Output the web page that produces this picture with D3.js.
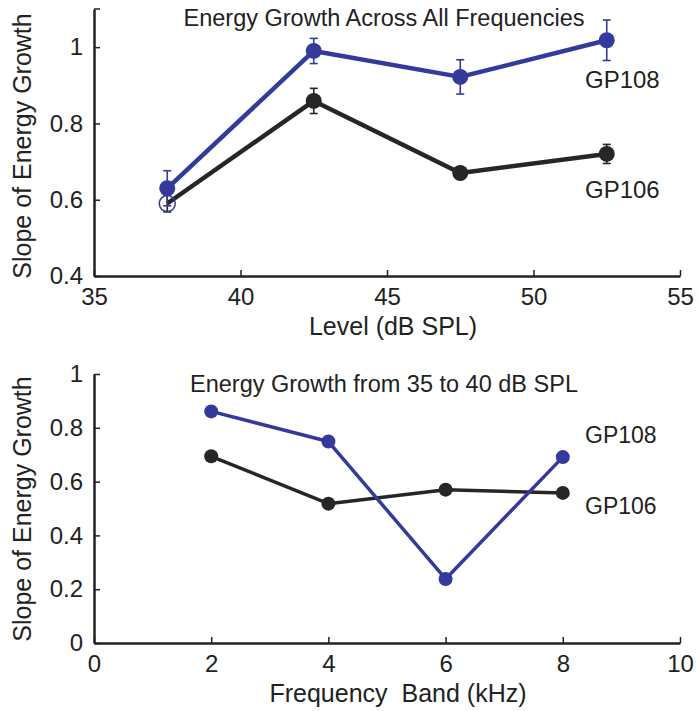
<!DOCTYPE html>
<html lang="en">
  <head>
    <meta charset="utf-8">
    <title>Energy Growth</title>
    <script src="https://cdn.jsdelivr.net/npm/d3@7"></script>
    <style>
      body { margin: 0; background: #fff; }
      text { font-family: "Liberation Sans", Arial, sans-serif; fill: #222; }
    </style>
  </head>
  <body>
    <script>

      // top panel: slope vs level
      var levels = [37.5, 42.5, 47.5, 52.5];
      var gp108Level = [0.63, 0.99, 0.922, 1.018];
      var gp108LevelErr = [0.046, 0.033, 0.045, 0.053];
      var gp106Level = [0.59, 0.859, 0.67, 0.72];
      var gp106LevelErr = [0.022, 0.033, 0.01, 0.025];
      var levelTicks = [35, 40, 45, 50, 55];
      var topYTicks = [0.4, 0.6, 0.8, 1];

      // bottom panel: slope vs frequency band
      var bands = [2, 4, 6, 8];
      var gp108Band = [0.861, 0.749, 0.238, 0.691];
      var gp106Band = [0.694, 0.518, 0.57, 0.558];
      var bandTicks = [0, 2, 4, 6, 8, 10];
      var botYTicks = [0, 0.2, 0.4, 0.6, 0.8, 1];

      var blue = "#343a9c", black = "#262626";

      var svg = d3.select("body").append("svg")
                  .attr("width", 698)
                  .attr("height", 711);

      function panel(opt) {
        var x = d3.scaleLinear().domain(opt.xDomain).range([94, 680]);
        var y = d3.scaleLinear().domain(opt.yDomain).range(opt.yRange);
        var g = svg.append("g");

        // axes, matlab style (ticks inside)
        var xa = g.append("g").attr("transform", "translate(0," + opt.yRange[0] + ")")
          .call(d3.axisBottom(x).tickValues(opt.xTicks).tickSizeInner(-6).tickSizeOuter(0).tickPadding(12)
            .tickFormat(d3.format("d")));
        var ya = g.append("g").attr("transform", "translate(94,0)")
          .call(d3.axisLeft(y).tickValues(opt.yTicks).tickSizeInner(-6).tickSizeOuter(0).tickPadding(11)
            .tickFormat(function(d) { return d == 0 || d == 1 ? d : d3.format(".1f")(d); }));
        [xa, ya].forEach(function(a) {
          a.select(".domain").attr("stroke", "#222").attr("stroke-width", 2.5);
          a.selectAll(".tick line").attr("stroke", "#222").attr("stroke-width", 1.5);
          a.selectAll(".tick text").style("font-size", "24px").attr("fill", "#222");
        });
        xa.selectAll(".tick text").attr("dy", "0.71em");
        // top tick of the y axis
        if (opt.yTop) {
          g.append("line").attr("x1", 94).attr("x2", 100)
            .attr("y1", y(opt.yTop)).attr("y2", y(opt.yTop))
            .attr("stroke", "#222").attr("stroke-width", 1.5);
        }

        g.append("text").attr("x", 384).attr("y", opt.titleY)
          .attr("text-anchor", "middle").style("font-size", "23.5px").text(opt.title);
        g.append("text").attr("x", opt.xLabelX).attr("y", opt.xLabelY)
          .attr("text-anchor", "middle").style("font-size", "25px").style("white-space", "pre")
          .text(opt.xLabel);
        g.append("text")
          .attr("transform", "translate(31," + opt.yLabelY + ") rotate(-90)")
          .attr("text-anchor", "middle").style("font-size", "25px").text("Slope of Energy Growth");

        var line = d3.line().x(function(d) { return x(d[0]); }).y(function(d) { return y(d[1]); });

        opt.series.forEach(function(s) {
          var pts = opt.xs.map(function(v, i) { return [v, s.values[i], s.err ? s.err[i] : 0]; });
          if (s.err) {
            var eb = g.append("g").attr("stroke", s.color).attr("stroke-width", 1.6);
            pts.forEach(function(p) {
              eb.append("line").attr("x1", x(p[0])).attr("x2", x(p[0]))
                .attr("y1", y(p[1] - p[2])).attr("y2", y(p[1] + p[2]));
              [p[1] - p[2], p[1] + p[2]].forEach(function(v) {
                eb.append("line").attr("x1", x(p[0]) - 4).attr("x2", x(p[0]) + 4)
                  .attr("y1", y(v)).attr("y2", y(v));
              });
            });
          }
          g.append("path").datum(pts).attr("d", line)
            .attr("fill", "none").attr("stroke", s.color)
            .attr("stroke-width", opt.lineWidth).attr("stroke-linejoin", "round");
          g.selectAll(null).data(pts).enter().append("circle")
            .attr("cx", function(d) { return x(d[0]); })
            .attr("cy", function(d) { return y(d[1]); })
            .attr("r", opt.r)
            .attr("fill", function(d, i) { return s.hollow && s.hollow[i] ? "none" : s.color; })
            .attr("stroke", function(d, i) { return s.hollow && s.hollow[i] ? blue : s.color; })
            .attr("stroke-width", function(d, i) { return s.hollow && s.hollow[i] ? 1.5 : 0; });
          g.append("text").attr("x", 585).attr("y", s.labelY)
            .style("font-size", opt.labelSize).attr("fill", s.color).text(s.name);
        });
      }

      panel({
        xDomain: [35, 55], yDomain: [0.4, 1.1], yRange: [276, 9], yTop: 1.1,
        xTicks: levelTicks, yTicks: topYTicks, xs: levels,
        title: "Energy Growth Across All Frequencies", titleY: 26,
        xLabel: "Level (dB SPL)", xLabelX: 393, xLabelY: 335, yLabelY: 146,
        lineWidth: 4.5, r: 8, labelSize: "24px",
        series: [
          { name: "GP106", values: gp106Level, err: gp106LevelErr, color: black, labelY: 198,
            hollow: [true, false, false, false] },
          { name: "GP108", values: gp108Level, err: gp108LevelErr, color: blue, labelY: 88 }
        ]
      });

      panel({
        xDomain: [0, 10], yDomain: [0, 1], yRange: [643, 374],
        xTicks: bandTicks, yTicks: botYTicks, xs: bands,
        title: "Energy Growth from 35 to 40 dB SPL", titleY: 392,
        xLabel: "Frequency  Band (kHz)", xLabelX: 398, xLabelY: 702, yLabelY: 509,
        lineWidth: 3.5, r: 7, labelSize: "23px",
        series: [
          { name: "GP106", values: gp106Band, color: black, labelY: 514 },
          { name: "GP108", values: gp108Band, color: blue, labelY: 443 }
        ]
      });
    </script>
  </body>
</html>
